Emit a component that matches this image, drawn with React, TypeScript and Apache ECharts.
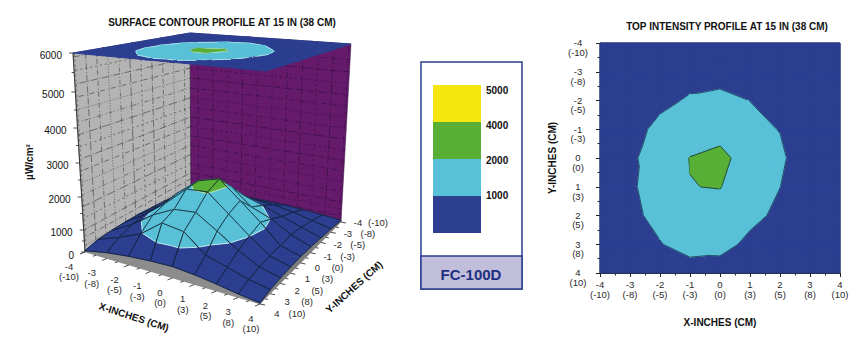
import React, { useEffect, useRef } from "react";
import * as echarts from "echarts";

const inches = [-4, -3, -2, -1, 0, 1, 2, 3, 4];
const centimetres = [-10, -8, -5, -3, 0, 3, 5, 8, 10];
const zTicks = [0, 1000, 2000, 3000, 4000, 5000, 6000];
const zMinorTicks = [500, 1500, 2500, 3500, 4500, 5500];
const legendLabels = [5000, 4000, 2000, 1000];

// intensity (uW/cm2) at each inch grid node: rows are y = -4..4, columns x = -4..4
const row_m4 = [90, 150, 200, 240, 260, 260, 220, 160, 90];
const row_m3 = [170, 330, 510, 683, 700, 640, 500, 320, 170];
const row_m2 = [230, 460, 778, 1100, 1200, 992, 690, 430, 220];
const row_m1 = [280, 640, 1250, 1620, 1724, 1200, 975, 520, 270];
const row_0 = [320, 820, 1500, 2020, 2200, 1660, 1150, 450, 290];
const row_1 = [310, 874, 1400, 1985, 2030, 1500, 1010, 430, 270];
const row_2 = [280, 768, 1283, 1600, 1655, 1255, 800, 380, 230];
const row_3 = [220, 560, 950, 1450, 1352, 765, 520, 290, 170];
const row_4 = [60, 260, 380, 450, 480, 400, 280, 140, 40];
const heights = [row_m4, row_m3, row_m2, row_m1, row_0, row_1, row_2, row_3, row_4];

const bandEdges = [-1, 1000, 2000, 4000, 5000, 99999];
const bandColors = ["#2b3e90", "#58c1d8", "#57b035", "#f6e60f", "#f6e60f"];
const contourLevels = [1000, 2000, 4000, 5000];

const FONT = '"Liberation Sans", Arial, sans-serif';
const GRAY_WALL = "#b4b4b4";
const PURPLE_WALL = "#651a6b";

// --- projection of the box drawn on the left --------------------------------
type P = [number, number];
function quadMap(q: P[]) {
  const [a, b, c, d] = q;
  return (u: number, v: number): P => [
    (1 - v) * ((1 - u) * a[0] + u * b[0]) + v * ((1 - u) * d[0] + u * c[0]),
    (1 - v) * ((1 - u) * a[1] + u * b[1]) + v * ((1 - u) * d[1] + u * c[1]),
  ];
}
// corners in order (x-4,y-4) (x4,y-4) (x4,y4) (x-4,y4)
const floorMap = quadMap([[191, 190], [341, 222], [260, 304], [85, 252]]);
const topMap = quadMap([[190, 33], [351, 44], [266, 71], [73, 53]]);
const zRise = [0, 22, 55, 89, 124, 160, 199];
function zFrac(z: number) {
  const s = Math.max(0, Math.min(5.9999, z / 1000));
  const i = Math.floor(s);
  return (zRise[i] + (zRise[i + 1] - zRise[i]) * (s - i)) / 199;
}
function proj(x: number, y: number, z: number): P {
  const u = (x + 4) / 8, v = (y + 4) / 8;
  const f = floorMap(u, v), t = topMap(u, v), k = zFrac(z);
  // the floor sags away from the viewer towards its middle
  const fy = f[1] - 80 * u * (1 - u) * v * (1 - v);
  return [f[0] + (t[0] - f[0]) * k, fy + (t[1] - fy) * k];
}

// --- contour bands ----------------------------------------------------------
type V = [number, number, number];
function clip(poly: V[], level: number, keepAbove: boolean): V[] {
  const out: V[] = [];
  for (let i = 0; i < poly.length; i++) {
    const a = poly[i], b = poly[(i + 1) % poly.length];
    const ia = keepAbove ? a[2] >= level : a[2] <= level;
    const ib = keepAbove ? b[2] >= level : b[2] <= level;
    if (ia) out.push(a);
    if (ia !== ib) {
      const t = (level - a[2]) / (b[2] - a[2]);
      out.push([a[0] + (b[0] - a[0]) * t, a[1] + (b[1] - a[1]) * t, level]);
    }
  }
  return out;
}
function node(ix: number, iy: number): V {
  return [inches[ix], inches[iy], heights[iy][ix]];
}
function cellTriangles(ix: number, iy: number): V[][] {
  const a = node(ix, iy), b = node(ix + 1, iy), c = node(ix + 1, iy + 1), d = node(ix, iy + 1);
  // split along the diagonal whose two ends are closest in value
  return Math.abs(a[2] - c[2]) <= Math.abs(b[2] - d[2])
    ? [[a, b, c], [a, c, d]]
    : [[a, b, d], [b, c, d]];
}
function cellShapes(ix: number, iy: number, toPx: (v: V) => number[], lineColor: string, lineWidth: number, seam: number) {
  const children: any[] = [];
  for (const tri of cellTriangles(ix, iy)) {
    for (let b = 0; b < bandColors.length; b++) {
      const poly = clip(clip(tri, bandEdges[b], true), bandEdges[b + 1], false);
      if (poly.length >= 3) {
        children.push({
          type: "polygon",
          shape: { points: poly.map(toPx) },
          style: { fill: bandColors[b], stroke: bandColors[b], lineWidth: seam },
        });
      }
    }
  }
  for (const tri of cellTriangles(ix, iy)) {
    for (const level of contourLevels) {
      const pts: V[] = [];
      for (let i = 0; i < 3; i++) {
        const p = tri[i], q = tri[(i + 1) % 3];
        if (p[2] < level !== q[2] < level) {
          const t = (level - p[2]) / (q[2] - p[2]);
          pts.push([p[0] + (q[0] - p[0]) * t, p[1] + (q[1] - p[1]) * t, level]);
        }
      }
      if (pts.length === 2) {
        children.push({
          type: "polyline",
          shape: { points: pts.map(toPx) },
          style: { fill: "none", stroke: lineColor, lineWidth },
        });
      }
    }
  }
  return children;
}

const cellIndex: number[][] = [];
for (let iy = 0; iy < 8; iy++) for (let ix = 0; ix < 8; ix++) cellIndex.push([ix, iy]);

const DASHES = [[1, 1.6], [5, 2, 1, 3], [1, 2, 7, 1.5], [2, 3], [9, 2, 1, 2], [1, 3, 1, 1.5, 4, 2]];

function App() {
  const ref = useRef<HTMLDivElement>(null);
  useEffect(() => {
    const chart = echarts.init(ref.current!, undefined, { renderer: "svg" });

    const onScreen = (api: any) => (p: P) => api.coord(p);

    const wallItem = (_: any, api: any) => {
      const c = onScreen(api);
      const isGray = api.value(0) === 0;
      const at = (s: number, z: number) => c(isGray ? proj(-4, s, z) : proj(s, -4, z));
      const dark = isGray ? "#3a3a3a" : "#2e0f3a";
      const children: any[] = [
        {
          type: "polygon",
          shape: { points: [at(-4, 0), at(4, 0), at(4, 6000), at(-4, 6000)] },
          style: { fill: isGray ? GRAY_WALL : PURPLE_WALL, stroke: dark, lineWidth: 0.5 },
        },
      ];
      let n = isGray ? 0 : 2;
      for (let z = 300; z < 6000; z += 350) {
        children.push({
          type: "polyline",
          shape: { points: [at(-4, z), at(4, z)] },
          style: { fill: "none", stroke: dark, lineWidth: 0.6, lineDash: DASHES[n++ % DASHES.length] },
        });
      }
      for (let s = -3.6; s < 4; s += 0.75) {
        children.push({
          type: "polyline",
          shape: { points: [at(s, 0), at(s, 6000)] },
          style: { fill: "none", stroke: dark, lineWidth: 0.6, lineDash: DASHES[n++ % DASHES.length] },
        });
      }
      return { type: "group", children };
    };

    const topItem = (_: any, api: any) => {
      const toPx = (v: V) => api.coord(proj(v[0], v[1], 6000));
      return { type: "group", children: cellShapes(api.value(0), api.value(1), toPx, "#cfeaf0", 0.7, 1) };
    };

    const skirtItem = (_: any, api: any) => {
      const c = onScreen(api);
      const frontEdge = api.value(0) === 0;
      const upper: number[][] = [];
      const lower: number[][] = [];
      inches.forEach((_v, k) => {
        const ix = frontEdge ? k : 8;
        const iy = frontEdge ? 8 : k;
        upper.push(c(proj(inches[ix], inches[iy], heights[iy][ix])));
        lower.unshift(c(proj(inches[ix], inches[iy], 0)));
      });
      return {
        type: "polygon",
        shape: { points: upper.concat(lower) },
        style: { fill: frontEdge ? "#8c8c8c" : "#7d7d7d", stroke: "#6e6e6e", lineWidth: 0.4 },
      };
    };

    const surfaceItem = (_: any, api: any) => {
      const toPx = (v: V) => api.coord(proj(v[0], v[1], v[2]));
      const ix = api.value(0), iy = api.value(1);
      const children = cellShapes(ix, iy, toPx, "#d8f0f4", 0.8, 0.8);
      const corners = [node(ix, iy), node(ix + 1, iy), node(ix + 1, iy + 1), node(ix, iy + 1), node(ix, iy)];
      children.push({
        type: "polyline",
        shape: { points: corners.map(toPx) },
        style: { fill: "none", stroke: "#10202e", lineWidth: 0.8 },
      });
      return { type: "group", children };
    };

    const flatItem = (_: any, api: any) => {
      const toPx = (v: V) => api.coord([v[0], v[1]]);
      return { type: "group", children: cellShapes(api.value(0), api.value(1), toPx, "#14304a", 0.8, 1) };
    };

    const txt = (p: number[], text: string, extra: any = {}, elProps: any = {}) => ({
      type: "text",
      x: p[0],
      y: p[1],
      ...elProps,
      style: { text, fill: "#2a2a2a", font: `9.5px ${FONT}`, align: "center", verticalAlign: "middle", ...extra },
    });
    const tick = (a: number[], b: number[]) => ({
      type: "line",
      shape: { x1: a[0], y1: a[1], x2: b[0], y2: b[1] },
      style: { stroke: "#222", lineWidth: 0.8 },
    });

    const axesItem = (_: any, api: any) => {
      const c = onScreen(api);
      const children: any[] = [];
      zTicks.forEach((z) => {
        const p = proj(-4, 4, z);
        children.push(tick(c([p[0] - 4, p[1]]), c(p)));
        children.push(
          txt(c([p[0] - 11, p[1] + (z === 0 ? 3 : 2)]), String(z), { align: "right", font: `10px ${FONT}`, fill: "#111" })
        );
      });
      zMinorTicks.forEach((z) => {
        const p = proj(-4, 4, z);
        children.push(tick(c([p[0] - 2.5, p[1]]), c(p)));
      });
      children.push(tick(c(proj(-4, 4, 0)), c(proj(-4, 4, 6000))));
      for (let s = -4; s <= 4; s += 0.5) {
        const major = Number.isInteger(s);
        const px = proj(s, 4, 0);
        const py = proj(4, s, 0);
        children.push(tick(c(px), c([px[0] - (major ? 5 : 3), px[1] + (major ? 2 : 1)])));
        children.push(tick(c(py), c([py[0] + (major ? 5 : 3), py[1] + (major ? 1 : 0.5)])));
      }
      inches.forEach((v, k) => {
        const px = proj(v, 4, 0);
        const ox = -16 + ((v + 4) / 8) * 7;
        children.push(txt(c([px[0] + ox, px[1] + 14]), String(v)));
        children.push(txt(c([px[0] + ox, px[1] + 24.5]), `(${centimetres[k]})`));
        const py = proj(4, v, 0);
        const dy = ((v + 4) / 8) * 9;
        children.push(txt(c([py[0] + 17, py[1] + dy]), String(v)));
        children.push(txt(c([py[0] + 37, py[1] + dy]), `(${centimetres[k]})`));
      });
      const bold = { font: `bold 10px ${FONT}`, fill: "#111" };
      children.push(txt(c([134, 317]), "X-INCHES (CM)", bold, { rotation: (-18 * Math.PI) / 180 }));
      children.push(txt(c([354, 287]), "Y-INCHES (CM)", bold, { rotation: (42 * Math.PI) / 180 }));
      children.push(txt(c([29, 162]), "µW/cm²", bold, { rotation: Math.PI / 2 }));
      return { type: "group", children };
    };

    // the right plot's y labels hang from the tick by their first line
    const yLabelItem = (_: any, api: any) => {
      const k = api.value(0);
      const p = api.coord([-4, inches[k]]);
      return txt([p[0] - 22, p[1] - 5], `${inches[k]}\n(${centimetres[k]})`, { verticalAlign: "top", lineHeight: 9.5 });
    };

    const screenSeries = (renderItem: any, data: number[][]) => ({
      type: "custom",
      coordinateSystem: "cartesian2d",
      xAxisIndex: 0,
      yAxisIndex: 0,
      clip: false,
      silent: true,
      renderItem,
      data,
    });

    const legendTop = [85, 122, 159, 196];
    const legendGraphics: any[] = [
      { type: "rect", shape: { x: 421, y: 62, width: 101, height: 227 }, style: { fill: "#fff", stroke: "#2b3e90", lineWidth: 1.5 } },
      { type: "rect", shape: { x: 421, y: 256, width: 101, height: 33 }, style: { fill: "#c0bedb", stroke: "#2b3e90", lineWidth: 1.5 } },
      { type: "text", x: 471, y: 274, style: { text: "FC-100D", fill: "#1f2f80", font: `bold 15px ${FONT}`, align: "center", verticalAlign: "middle" } },
    ];
    [3, 2, 1, 0].forEach((band, i) => {
      legendGraphics.push({ type: "rect", shape: { x: 433, y: legendTop[i], width: 48, height: 37 }, style: { fill: bandColors[band] } });
      legendGraphics.push({ type: "text", x: 486, y: 90 + 35 * i, style: { text: String(legendLabels[i]), fill: "#111", font: `bold 10px ${FONT}`, verticalAlign: "middle" } });
    });

    chart.setOption({
      animation: false,
      title: [
        { text: "SURFACE CONTOUR PROFILE AT 15 IN (38 CM)", left: 217, top: 12, textAlign: "center", textStyle: { fontFamily: FONT, fontSize: 10, fontWeight: "bold", color: "#111" } },
        { text: "TOP INTENSITY PROFILE AT 15 IN (38 CM)", left: 722, top: 16, textAlign: "center", textStyle: { fontFamily: FONT, fontSize: 10, fontWeight: "bold", color: "#111" } },
      ],
      grid: [
        { left: 0, top: 0, width: 864, height: 354, show: false },
        { left: 600, top: 43, width: 240, height: 230, show: true, borderColor: "#1a2350", borderWidth: 1, backgroundColor: "transparent" },
      ],
      xAxis: [
        { gridIndex: 0, type: "value", min: 0, max: 864, show: false },
        {
          gridIndex: 1, type: "value", min: -4, max: 4, interval: 1,
          axisLine: { onZero: false, lineStyle: { color: "#222" } },
          splitLine: { show: false },
          axisTick: { length: 4, lineStyle: { color: "#222" } },
          minorTick: { show: true, splitNumber: 2, length: 2.5, lineStyle: { color: "#222" } },
          axisLabel: {
            margin: 6, color: "#2a2a2a", fontFamily: FONT, fontSize: 9.5, lineHeight: 10, showMinLabel: true, showMaxLabel: true,
            formatter: (v: number) => `${v}\n(${centimetres[inches.indexOf(v)]})`,
          },
          name: "X-INCHES (CM)", nameLocation: "middle", nameGap: 44,
          nameTextStyle: { fontFamily: FONT, fontSize: 10, fontWeight: "bold", color: "#111" },
        },
      ],
      yAxis: [
        { gridIndex: 0, type: "value", min: 0, max: 354, inverse: true, show: false },
        {
          gridIndex: 1, type: "value", min: -4, max: 4, interval: 1, inverse: true,
          axisLine: { onZero: false, lineStyle: { color: "#222" } },
          splitLine: { show: false },
          axisTick: { length: 4, lineStyle: { color: "#222" } },
          minorTick: { show: true, splitNumber: 2, length: 2.5, lineStyle: { color: "#222" } },
          axisLabel: { show: false },
          name: "Y-INCHES (CM)", nameLocation: "middle", nameGap: 43,
          nameTextStyle: { fontFamily: FONT, fontSize: 10, fontWeight: "bold", color: "#111" },
        },
      ],
      graphic: legendGraphics,
      series: [
        screenSeries(wallItem, [[0], [1]]),
        screenSeries(topItem, cellIndex),
        screenSeries(skirtItem, [[0], [1]]),
        screenSeries(surfaceItem, cellIndex),
        screenSeries(axesItem, [[0]]),
        {
          type: "custom", coordinateSystem: "cartesian2d", xAxisIndex: 1, yAxisIndex: 1, silent: true,
          renderItem: flatItem, data: cellIndex,
        },
        {
          type: "custom", coordinateSystem: "cartesian2d", xAxisIndex: 1, yAxisIndex: 1, silent: true, clip: false,
          renderItem: yLabelItem, data: inches.map((_v, k) => [k]),
        },
      ],
    });
    return () => chart.dispose();
  }, []);
  return <div ref={ref} style={{ position: "fixed", left: 0, top: 0, width: 864, height: 354, background: "#fff" }} />;
}

export default App;
